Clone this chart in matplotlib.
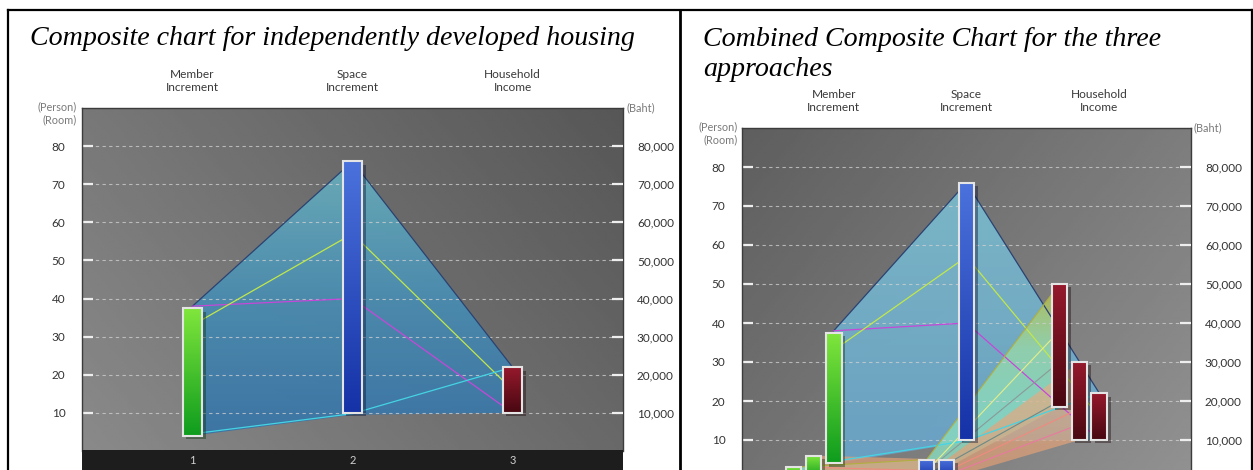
import numpy as np
import matplotlib.pyplot as plt
import matplotlib.colors as mcolors
from matplotlib import patheffects as pe
from matplotlib.lines import Line2D

plt.rcParams['font.family'] = ['Lato', 'DejaVu Sans']

# axis categories and ticks
categories = ['Member\nIncrement', 'Space\nIncrement', 'Household\nIncome']
cat_x = [1, 2, 3]
cat_numbers = ['1', '2', '3']
y_ticks = [10, 20, 30, 40, 50, 60, 70, 80]
baht_labels = ['10,000', '20,000', '30,000', '40,000', '50,000', '60,000', '70,000', '80,000']

# independently developed housing (persons / rooms / thousand baht)
indep_low = [4, 10, 10]
indep_high = [37.5, 76, 22]
indep_top = [38, 76, 22]
indep_bottom = [4, 9.5, 10]
indep_magenta = [38, 40, 10]
indep_yellow = [33, 57, 16]
indep_cyan = [4.5, 9.8, 22]

# approach A (first bar of each group in the combined chart)
a_low = [0, 0, 18.5]
a_high = [3, 5, 50]
a_line_yellow = [1, 2, 38]
a_line_gray1 = [1, 2, 30]
a_line_gray2 = [0.5, 1, 20]

# approach B (second bar of each group)
b_low = [0, 0, 10]
b_high = [6, 5, 30]
b_line_salmon = [3, 2, 18]
b_line_pink = [2, 1, 14]

bar_colors = [['#80e63c', '#0e9c1e'], ['#4b72dc', '#1532a6'], ['#95192c', '#480811']]

W, H = 1253, 470
fig = plt.figure(figsize=(W / 100, H / 100), dpi=100)


def px_axes(x0, y_top, x1, y_bottom):
    return fig.add_axes([x0 / W, (H - y_bottom) / H, (x1 - x0) / W, (y_bottom - y_top) / H])


def gradient(ax, extent, colors, clip, zorder, alpha=1.0):
    cmap = mcolors.LinearSegmentedColormap.from_list('g', colors)
    grad = np.linspace(0, 1, 128)[:, None]
    im = ax.imshow(grad, extent=extent, origin='upper', cmap=cmap, aspect='auto',
                   zorder=zorder, alpha=alpha, interpolation='bilinear')
    im.set_clip_path(clip)


def background(ax, a, bx, by):
    xx, yy = np.meshgrid(np.linspace(0, 1, 200), np.linspace(1, 0, 120))
    v = np.clip(a + bx * xx + by * yy, 0, 1)
    ax.imshow(v, cmap='gray', vmin=0, vmax=1, extent=(0, 1, 0, 1), transform=ax.transAxes,
              aspect='auto', zorder=0, interpolation='bilinear')


def draw_bar(ax, x, lo, hi, width, colors):
    bar = ax.bar(x, hi - lo, bottom=lo, width=width, color=colors[-1], zorder=4,
                 path_effects=[pe.SimplePatchShadow(offset=(2.5, -2.5), alpha=0.4), pe.Normal()])[0]
    gradient(ax, (x - width / 2, x + width / 2, lo, hi), colors, bar, 4.1)
    ax.bar(x, hi - lo, bottom=lo, width=width, fill=False, edgecolor='#e4e4e4',
           linewidth=1.5, zorder=4.2)


def draw_band(ax, xs, upper, lower, colors, alpha, zorder):
    px = list(xs) + list(xs[::-1])
    py = list(upper) + list(lower[::-1])
    poly = ax.fill(px, py, facecolor='none', edgecolor='none', zorder=zorder)[0]
    gradient(ax, (min(px), max(px), min(py), max(py)), colors, poly, zorder, alpha)


def setup_axes(ax):
    ax.set_xlim(0.31, 3.69)
    ax.set_ylim(0, 90)
    ax.set_xticks(cat_x, categories)
    ax.xaxis.tick_top()
    ax.tick_params(axis='x', length=0, pad=11, labelsize=8.6, labelcolor='#3a3a3a')
    ax.set_yticks(y_ticks, [str(t) for t in y_ticks])
    ax.tick_params(axis='y', direction='in', length=8, width=1.6, color='#eeeeee',
                   labelsize=8.5, labelcolor='#333333', pad=12)
    ax.grid(axis='y', color='#d2d2d2', linestyle=(0, (3, 3)), linewidth=0.8, alpha=0.75)
    for s in ax.spines.values():
        s.set_color('#3c3c3c')
        s.set_linewidth(1)
    ax.spines['bottom'].set_visible(False)
    ax2 = ax.twinx()
    ax2.set_ylim(0, 90)
    ax2.set_yticks(y_ticks, baht_labels)
    ax2.tick_params(axis='y', direction='in', length=8, width=1.6, color='#eeeeee',
                    labelsize=8.5, labelcolor='#333333', pad=10)
    for s in ax2.spines.values():
        s.set_visible(False)
    ax.text(-0.01, 0.985, '(Person)\n(Room)', transform=ax.transAxes, ha='right', va='center',
            fontsize=7.8, color='#7a7a7a', linespacing=1.25)
    ax.text(1.006, 1.0, '(Baht)', transform=ax.transAxes, ha='left', va='center',
            fontsize=7.8, color='#7a7a7a')


def draw_indep(ax, offset, width, fill_colors, alpha):
    xs = [c + offset for c in cat_x]
    draw_band(ax, xs, indep_top, indep_bottom, fill_colors, alpha, 1)
    ax.plot(xs, indep_top, color='#2b4271', lw=0.9, zorder=3)
    ax.plot(xs, indep_magenta, color='#c548d8', lw=0.9, zorder=3)
    ax.plot(xs, indep_yellow, color='#c2e84a', lw=0.9, zorder=3)
    ax.plot(xs, indep_cyan, color='#45d4e4', lw=0.9, zorder=3)
    for x, lo, hi, c in zip(xs, indep_low, indep_high, bar_colors):
        draw_bar(ax, x, lo, hi, width, c)


# ---- left panel ----
ax_l = px_axes(82, 108, 623, 451)
background(ax_l, 0.54, -0.13, -0.07)
draw_indep(ax_l, 0.0, 0.12, ['#6aaebb', '#4a8cb0', '#3a74a6'], 0.95)
setup_axes(ax_l)

strip = px_axes(82, 450, 623, 470)
strip.set_facecolor('#1d1d1d')
strip.set_xlim(0.31, 3.69)
strip.set_ylim(0, 1)
strip.set_xticks([])
strip.set_yticks([])
for s in strip.spines.values():
    s.set_visible(False)
for x, lab in zip(cat_x, cat_numbers):
    strip.text(x, 0.45, lab, ha='center', va='center', fontsize=8, color='#d0d0d0')

# ---- right panel ----
ax_r = px_axes(742, 128, 1191, 479)
background(ax_r, 0.45, 0.12, -0.08)
draw_indep(ax_r, 0.0, 0.12, ['#7cbacb', '#72aec8', '#6aa2c6'], 0.95)

xa = [c - 0.30 for c in cat_x]
xb = [c - 0.15 for c in cat_x]
draw_band(ax_r, xa, a_high, a_low, ['#c0c040', '#98d8a8', '#8adcc0', '#8adcc0'], 0.8, 1.5)
ax_r.plot(xa, a_high, color='#b0b040', lw=0.8, zorder=3)
ax_r.plot(xa, a_line_yellow, color='#e6ee8a', lw=0.8, zorder=3)
ax_r.plot(xa, a_line_gray1, color='#8a9a98', lw=0.8, zorder=3)
ax_r.plot(xa, a_line_gray2, color='#6c8a88', lw=0.8, zorder=3)
draw_band(ax_r, xb, b_high, b_low, ['#e4b48a', '#e09c74'], 0.72, 1.7)
ax_r.plot(xb, b_line_salmon, color='#f08a80', lw=0.8, zorder=3)
ax_r.plot(xb, b_line_pink, color='#e87aa0', lw=0.8, zorder=3)
for x, lo, hi, c in zip(xa, a_low, a_high, bar_colors):
    draw_bar(ax_r, x, lo, hi, 0.115, c)
for x, lo, hi, c in zip(xb, b_low, b_high, bar_colors):
    draw_bar(ax_r, x, lo, hi, 0.115, c)
setup_axes(ax_r)

# ---- titles and frame ----
fig.text(30 / W, (H - 45) / H, 'Composite chart for independently developed housing',
         family='Liberation Serif', style='italic', fontsize=20.2, va='baseline')
fig.text(703 / W, (H - 76) / H, 'Combined Composite Chart for the three\napproaches',
         family='Liberation Serif', style='italic', fontsize=20.2, va='baseline', linespacing=1.28)

fig.add_artist(Line2D([8 / W, 8 / W], [0, (H - 10) / H], color='black', lw=1.6))
fig.add_artist(Line2D([8 / W, 1], [(H - 10) / H, (H - 10) / H], color='black', lw=1.6))
fig.add_artist(Line2D([680 / W, 680 / W], [0, (H - 10) / H], color='black', lw=2.0))
fig.add_artist(Line2D([1251.5 / W, 1251.5 / W], [0, (H - 10) / H], color='black', lw=1.6))

fig.savefig('out.png', dpi=100)
